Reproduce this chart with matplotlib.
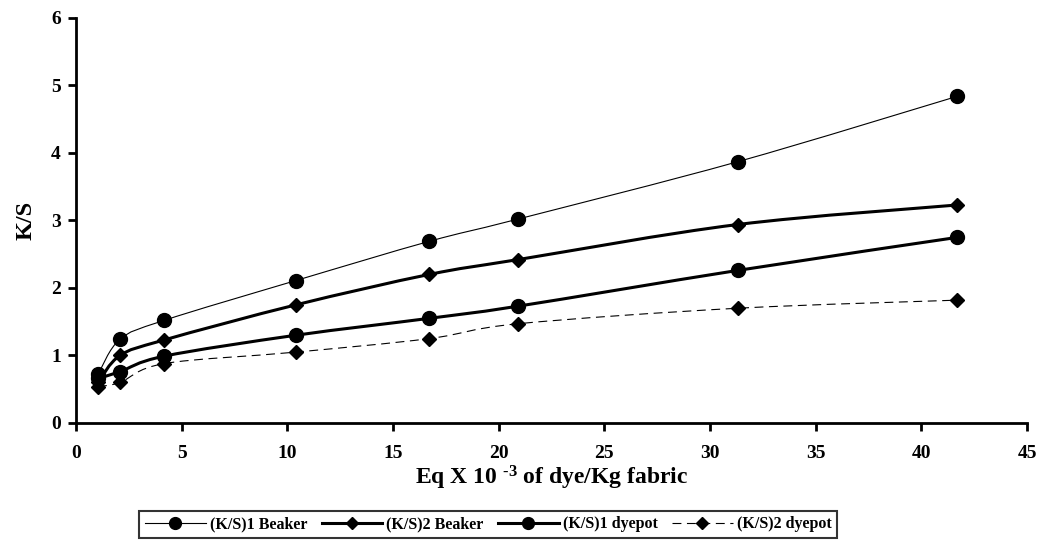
import numpy as np
import matplotlib
matplotlib.use("Agg")
import matplotlib.pyplot as plt
from matplotlib.path import Path
from matplotlib.patches import PathPatch
from matplotlib.lines import Line2D

plt.rcParams['font.family'] = ['Liberation Serif']
plt.rcParams['font.weight'] = 'bold'
plt.rcParams['mathtext.fontset'] = 'custom'
plt.rcParams['mathtext.rm'] = 'Liberation Serif:bold'
plt.rcParams['mathtext.bf'] = 'Liberation Serif:bold'
plt.rcParams['mathtext.it'] = 'Liberation Serif:bold'

x = [1.04, 2.08, 4.17, 10.4, 16.7, 20.9, 31.3, 41.7]
ks1_beaker = [0.72, 1.24, 1.52, 2.11, 2.69, 3.02, 3.87, 4.84]
ks2_beaker = [0.60, 1.00, 1.23, 1.75, 2.20, 2.42, 2.94, 3.23]
ks1_dyepot = [0.66, 0.76, 0.99, 1.30, 1.55, 1.73, 2.26, 2.75]
ks2_dyepot = [0.54, 0.60, 0.88, 1.05, 1.25, 1.47, 1.70, 1.82]
labels = ['(K/S)1 Beaker', '(K/S)2 Beaker', '(K/S)1 dyepot', '(K/S)2 dyepot']

fig = plt.figure(figsize=(10.41, 5.52), dpi=100)
ax = fig.add_axes([0.073, 0.2337, 0.9136, 0.7337])


def smooth_path(ax, xs, ys, **kw):
    # Excel-style smoothed line: cubic Bezier segments through the data points
    pts = np.column_stack([xs, ys]).astype(float)
    disp = ax.transData.transform(pts)
    n = len(disp)
    verts = [disp[0]]
    codes = [Path.MOVETO]
    t = 1 / 6
    for i in range(n - 1):
        p0 = disp[i - 1] if i > 0 else disp[i]
        p1 = disp[i]
        p2 = disp[i + 1]
        p3 = disp[i + 2] if i + 2 < n else disp[i + 1]
        c1 = p1 + (p2 - p0) * t
        c2 = p2 - (p3 - p1) * t
        verts += [c1, c2, p2]
        codes += [Path.CURVE4] * 3
    path = Path(verts, codes)
    patch = PathPatch(path, fill=False, transform=None, **kw)
    ax.add_artist(patch)


ax.set_xlim(0, 45)
ax.set_ylim(0, 6)

series = [
    (ks1_beaker, 'o', 10, 0.8, '-'),
    (ks2_beaker, 'D', 7, 2.2, '-'),
    (ks1_dyepot, 'o', 10, 2.2, '-'),
    (ks2_dyepot, 'D', 7, 0.8, (0, (8, 5))),
]

handles = []
for ys, mk, ms, lw, ls in series:
    smooth_path(ax, x, ys, edgecolor='black', linewidth=lw, linestyle=ls, zorder=2)
    ax.plot(x, ys, linestyle='none', marker=mk, markersize=ms, color='black', zorder=3)
    handles.append(Line2D([], [], color='black', linewidth=lw, linestyle=ls,
                          marker=mk, markersize=ms * 0.85))

for s in ['top', 'right']:
    ax.spines[s].set_visible(False)
for s in ['left', 'bottom']:
    ax.spines[s].set_linewidth(2)

ax.set_xticks(range(0, 46, 5))
ax.set_yticks(range(0, 7))
ax.tick_params(axis='both', direction='out', length=6, width=2, labelsize=14)
ax.tick_params(axis='x', pad=10)
ax.tick_params(axis='y', pad=5)
for lab in ax.get_xticklabels() + ax.get_yticklabels():
    lab.set_fontweight('bold')

ax.set_xlabel('Eq X 10 $^{\u2010 3}$ of dye/Kg fabric', fontsize=17, fontweight='bold', labelpad=1)
ax.set_ylabel('K/S', fontsize=17.5, fontweight='bold', labelpad=10)

leg = fig.legend(handles, labels, loc='center', bbox_to_anchor=(0.469, 0.05), ncol=4,
                 frameon=True, fancybox=False, edgecolor='black', handlelength=3.8,
                 columnspacing=0.9, handletextpad=0.25, borderpad=0.35,
                 prop={'family': 'Liberation Serif', 'weight': 'bold', 'size': 11.5})
leg.get_frame().set_linewidth(1.5)

fig.savefig('out.png', dpi=100)
